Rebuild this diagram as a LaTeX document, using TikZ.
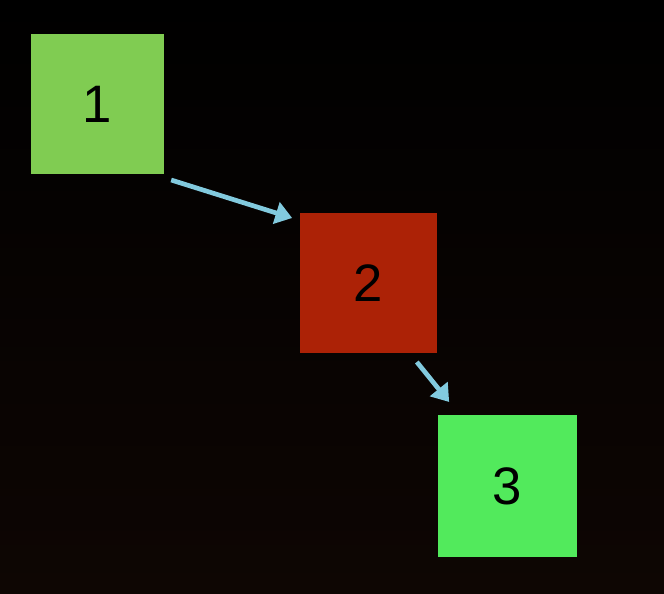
\documentclass[tikz,border=0pt]{standalone}
\usepackage{fontspec}
\setmainfont{Liberation Sans}
\usetikzlibrary{arrows.meta,positioning}
\definecolor{boxone}{RGB}{128,204,82}
\definecolor{boxtwo}{RGB}{172,34,6}
\definecolor{boxthree}{RGB}{82,234,92}
\definecolor{arrcol}{RGB}{130,202,222}
\definecolor{bgdark}{RGB}{14,6,3}

\begin{document}
\begin{tikzpicture}[x=0.03cm,y=-0.03cm,
  box/.style={inner sep=0pt,outer sep=0pt,minimum width=4.1cm,minimum height=4.2cm,
    font=\fontsize{45}{47}\selectfont},
  arr/.style={draw=arrcol,line width=4pt,-{Triangle[length=5mm,width=6.6mm]}}]
\shade[top color=black,middle color=black,bottom color=bgdark] (0,0) rectangle (664,594);
\useasboundingbox (0,0) rectangle (664,594);
% slide boxes
\node[box,fill=boxone,minimum width=4cm] (b1) at (97.5,104) {1};
\node[box,fill=boxtwo] (b2) at (368.5,283) {2};
\node[box,fill=boxthree,minimum width=4.16cm,minimum height=4.26cm] (b3) at (507.5,486) {3};
% arrows
\draw[arr] ([shift={(7,6)}]b1.south east) -- ([shift={(-8,5)}]b2.north west);
\draw[arr] ([shift={(-20,9)}]b2.south east) -- ([shift={(11,-13)}]b3.north west);
\end{tikzpicture}
\end{document}
